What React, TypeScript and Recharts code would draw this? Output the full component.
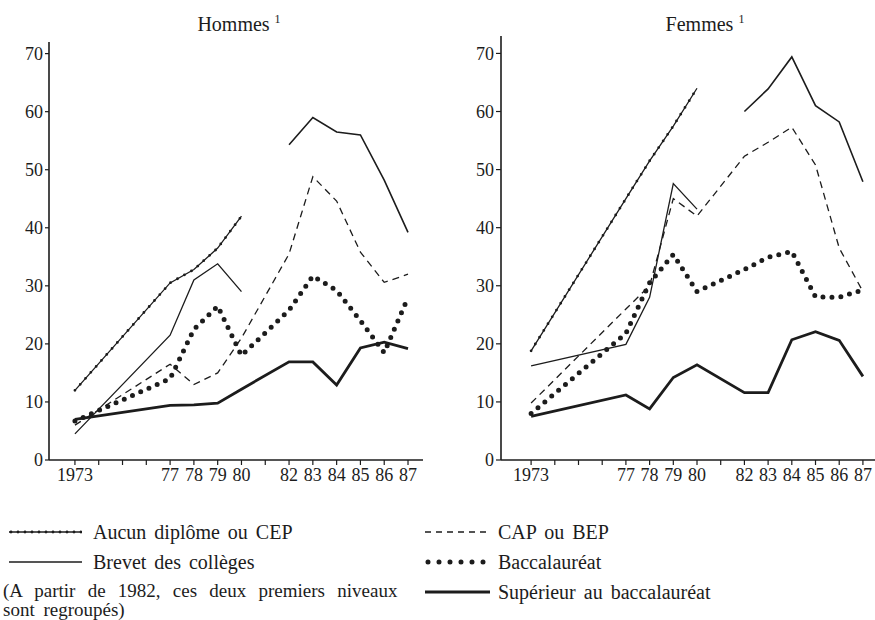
import React from 'react';
import { LineChart, Line, XAxis, YAxis } from 'recharts';

const years = [1973, 1977, 1978, 1979, 1980, 1982, 1983, 1984, 1985, 1986, 1987];
const tickYears = [1973, 1974, 1975, 1976, 1977, 1978, 1979, 1980, 1981, 1982, 1983, 1984, 1985, 1986, 1987];
const tickLabels: Record<number, string> = {
  1973: '1973', 1977: '77', 1978: '78', 1979: '79', 1980: '80',
  1982: '82', 1983: '83', 1984: '84', 1985: '85', 1986: '86', 1987: '87',
};
const yTicks = [0, 10, 20, 30, 40, 50, 60, 70];

// Hommes
const hommesAucun = [12, 30.5, 32.8, 36.5, 42, null, null, null, null, null, null];
const hommesBrevet = [4.5, 21.5, 31, 33.8, 29, null, null, null, null, null, null];
const hommesGroupes = [null, null, null, null, null, 54.3, 59, 56.5, 56, 48.2, 39.2];
const hommesCap = [6, 16.5, 13, 15, 21, 35.5, 48.8, 44.6, 35.8, 30.6, 32];
const hommesBac = [6.7, 14, 22.5, 26.5, 18, 25.8, 31.7, 29.2, 24, 18.5, 28];
const hommesSup = [7, 9.4, 9.5, 9.8, 12.2, 16.9, 16.9, 12.9, 19.3, 20.3, 19.2];

// Femmes
const femmesAucun = [18.8, 45, 51.5, 57.5, 64, null, null, null, null, null, null];
const femmesBrevet = [16.2, 19.9, 28, 47.6, 43.2, null, null, null, null, null, null];
const femmesGroupes = [null, null, null, null, null, 60, 63.9, 69.4, 61, 58.2, 47.9];
const femmesCap = [9.8, 26, 30, 45, 42, 52.3, 54.7, 57.3, 50.8, 36.5, 29];
const femmesBac = [8, 21.8, 30.5, 35.4, 29, 32.8, 34.9, 35.9, 28.1, 28, 29.3];
const femmesSup = [7.5, 11.2, 8.8, 14.2, 16.4, 11.6, 11.6, 20.7, 22.1, 20.6, 14.4];

const INK = '#1c1c1c';
const FONT = '"Liberation Serif", "DejaVu Serif", serif';

type Series = {
  aucun: (number | null)[];
  brevet: (number | null)[];
  groupes: (number | null)[];
  cap: (number | null)[];
  bac: (number | null)[];
  sup: (number | null)[];
};

const buildRows = (s: Series) =>
  years.map((year, i) => ({
    year,
    aucun: s.aucun[i],
    brevet: s.brevet[i],
    groupes: s.groupes[i],
    cap: s.cap[i],
    bac: s.bac[i],
    sup: s.sup[i],
  }));

const hommesRows = buildRows({
  aucun: hommesAucun, brevet: hommesBrevet, groupes: hommesGroupes,
  cap: hommesCap, bac: hommesBac, sup: hommesSup,
});
const femmesRows = buildRows({
  aucun: femmesAucun, brevet: femmesBrevet, groupes: femmesGroupes,
  cap: femmesCap, bac: femmesBac, sup: femmesSup,
});

const tickStyle = { fontSize: 18, fill: INK, fontFamily: FONT };

type PanelProps = {
  rows: any[];
  width: number;
  yAxisWidth: number;
  marginTop: number;
  marginRight: number;
  xDomain: [number, number];
  yMax: number;
  yTickSize: number;
};

function Panel({ rows, width, yAxisWidth, marginTop, marginRight, xDomain, yMax, yTickSize }: PanelProps) {
  const common = {
    type: 'linear' as const,
    dot: false,
    activeDot: false,
    isAnimationActive: false,
    connectNulls: true,
    stroke: INK,
  };
  return (
    <LineChart
      width={width}
      height={500}
      data={rows}
      margin={{ top: marginTop, right: marginRight, bottom: 10, left: 0 }}
    >
      <XAxis
        dataKey="year"
        type="number"
        domain={xDomain}
        allowDataOverflow
        ticks={tickYears}
        interval={0}
        tickFormatter={(v: number) => tickLabels[v] ?? ''}
        tick={tickStyle}
        tickSize={5}
        tickMargin={3}
        height={30}
        axisLine={{ stroke: INK, strokeWidth: 1.6 }}
        tickLine={{ stroke: INK, strokeWidth: 1.2 }}
      />
      <YAxis
        type="number"
        domain={[0, yMax]}
        allowDataOverflow
        ticks={yTicks}
        interval={0}
        width={yAxisWidth}
        tick={tickStyle}
        tickSize={yTickSize}
        tickMargin={2}
        axisLine={{ stroke: INK, strokeWidth: 1.6 }}
        tickLine={{ stroke: INK, strokeWidth: 1.2 }}
      />
      <Line {...common} dataKey="aucun" strokeWidth={1.3} />
      <Line {...common} dataKey="aucun" strokeWidth={2.8} strokeDasharray="0 8" strokeLinecap="round" legendType="none" />
      <Line {...common} dataKey="brevet" strokeWidth={1.3} />
      <Line {...common} dataKey="groupes" strokeWidth={1.6} />
      <Line {...common} dataKey="cap" strokeWidth={1.3} strokeDasharray="7 5" />
      <Line {...common} dataKey="bac" strokeWidth={5} strokeDasharray="0 9" strokeLinecap="round" />
      <Line {...common} dataKey="sup" strokeWidth={2.8} />
    </LineChart>
  );
}

function Sample({ kind, width }: { kind: string; width: number }) {
  const y = 6;
  let line: React.ReactNode = null;
  if (kind === 'aucun') {
    line = (
      <g>
        <line x1={0} y1={y} x2={width} y2={y} stroke={INK} strokeWidth={1.4} />
        <line x1={2} y1={y} x2={width} y2={y} stroke={INK} strokeWidth={2.8} strokeDasharray="0 7" strokeLinecap="round" />
      </g>
    );
  } else if (kind === 'brevet') {
    line = <line x1={0} y1={y} x2={width} y2={y} stroke={INK} strokeWidth={1.4} />;
  } else if (kind === 'cap') {
    line = <line x1={0} y1={y} x2={width} y2={y} stroke={INK} strokeWidth={1.4} strokeDasharray="6 5" />;
  } else if (kind === 'bac') {
    line = (
      <line x1={3} y1={y} x2={width} y2={y} stroke={INK} strokeWidth={5} strokeDasharray="0 11" strokeLinecap="round" />
    );
  } else {
    line = <line x1={0} y1={y} x2={width} y2={y} stroke={INK} strokeWidth={3} />;
  }
  return (
    <svg width={width} height={12} style={{ display: 'block' }}>
      {line}
    </svg>
  );
}

const legendText: React.CSSProperties = {
  position: 'absolute',
  fontFamily: FONT,
  fontSize: 20,
  color: INK,
  whiteSpace: 'nowrap',
  lineHeight: '20px',
};

const supStyle: React.CSSProperties = {
  fontSize: 12,
  position: 'relative',
  top: -8,
  verticalAlign: 'baseline',
  lineHeight: 0,
};

export default function App() {
  return (
    <div style={{ position: 'absolute', left: 0, top: 0, width: 875, height: 620, background: '#fff', overflow: 'hidden' }}>
      <div style={{ position: 'absolute', left: 0, top: 0 }}>
        <Panel
          rows={hommesRows}
          width={440}
          yAxisWidth={49}
          marginTop={42}
          marginRight={17}
          xDomain={[1971.91, 1987.63]}
          yMax={72}
          yTickSize={4}
        />
      </div>
      <div style={{ position: 'absolute', left: 440, top: 0 }}>
        <Panel
          rows={femmesRows}
          width={435}
          yAxisWidth={61}
          marginTop={36}
          marginRight={0}
          xDomain={[1971.73, 1987.51]}
          yMax={73}
          yTickSize={5}
        />
      </div>
      <div style={{ ...legendText, left: 239, top: 14, transform: 'translateX(-50%)' }}>
        Hommes <span style={supStyle}>1</span>
      </div>
      <div style={{ ...legendText, left: 705, top: 14, transform: 'translateX(-50%)' }}>
        Femmes <span style={supStyle}>1</span>
      </div>

      {/* Legend */}
      <div style={{ position: 'absolute', left: 9, top: 526 }}><Sample kind="aucun" width={73} /></div>
      <div style={{ ...legendText, left: 93, top: 522, wordSpacing: 3 }}>Aucun diplôme ou CEP</div>
      <div style={{ position: 'absolute', left: 9, top: 556 }}><Sample kind="brevet" width={73} /></div>
      <div style={{ ...legendText, left: 93, top: 552, wordSpacing: 3 }}>Brevet des collèges</div>
      <div style={{ ...legendText, left: 3, top: 581, fontSize: 19, lineHeight: '19px', wordSpacing: 7.5 }}>(A partir de 1982, ces deux premiers niveaux</div>
      <div style={{ ...legendText, left: 3, top: 601, fontSize: 19, lineHeight: '18px', wordSpacing: 4 }}>sont regroupés)</div>

      <div style={{ position: 'absolute', left: 425, top: 526 }}><Sample kind="cap" width={65} /></div>
      <div style={{ ...legendText, left: 498, top: 522, wordSpacing: 3 }}>CAP ou BEP</div>
      <div style={{ position: 'absolute', left: 425, top: 556 }}><Sample kind="bac" width={65} /></div>
      <div style={{ ...legendText, left: 498, top: 552, wordSpacing: 3 }}>Baccalauréat</div>
      <div style={{ position: 'absolute', left: 425, top: 586 }}><Sample kind="sup" width={65} /></div>
      <div style={{ ...legendText, left: 498, top: 582, wordSpacing: 3 }}>Supérieur au baccalauréat</div>
    </div>
  );
}
